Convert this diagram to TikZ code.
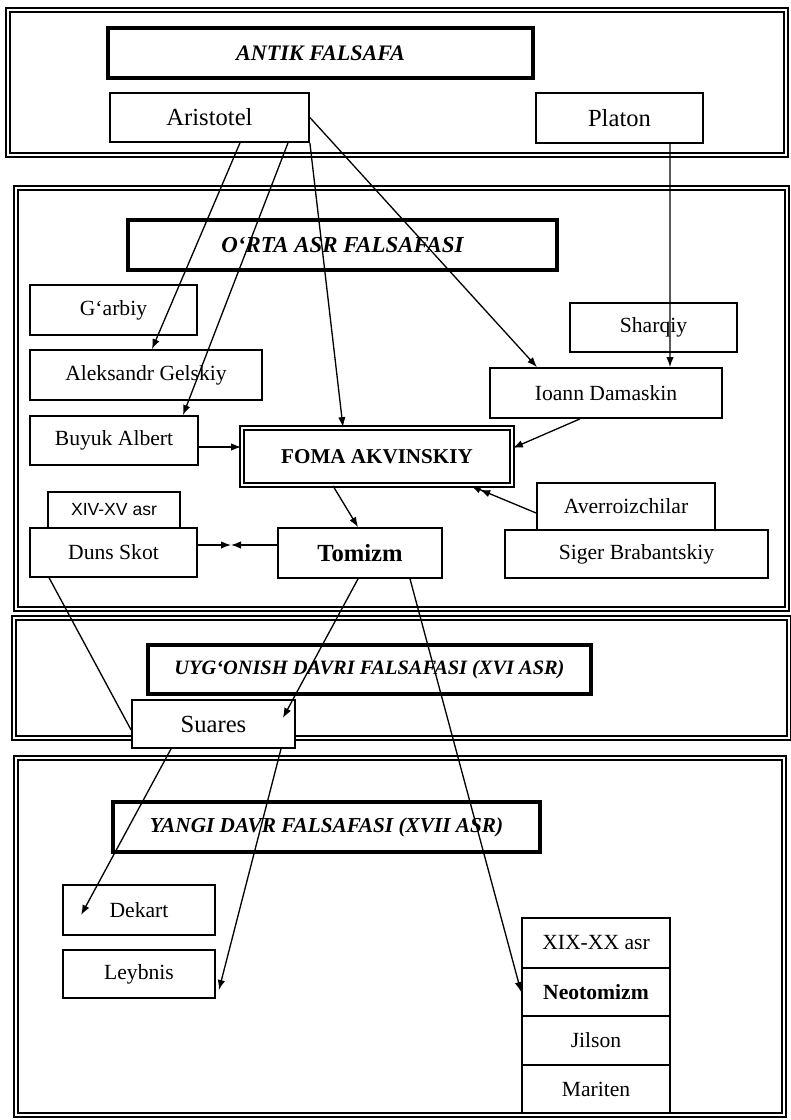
\documentclass[tikz,border=0pt]{standalone}
\usepackage{fontspec}
\setmainfont{Liberation Serif}
\newfontfamily\arialfont{Liberation Sans}
\usetikzlibrary{
	arrows.meta,
	calc
}

\tikzset{
	box/.style={draw, line width=1pt, fill=white, inner sep=1pt, font=\fontsize{12.3}{14}\selectfont},
	headbox/.style={draw, line width=1.9pt, fill=white, inner sep=1pt, font=\fontsize{12.6}{14}\selectfont\bfseries\itshape},
	panel/.style={draw, double, line width=1.3pt, double distance=0.8pt},
	arr/.style={-{Latex[length=2mm,width=1.5mm]}, line width=0.75pt},
	dblarr/.style={-{Latex[length=2mm,width=1.5mm]Latex[length=2mm,width=1.5mm]}, line width=0.75pt},
}

\begin{document}
\begin{tikzpicture}[x=0.2mm, y=-0.2mm]
	
	\useasboundingbox (0,0) rectangle (791,1120);
	
	% frames of the periods
	\draw[panel] (8,10) rectangle (786,155);
	\draw[panel] (16,188) rectangle (787,609);
	\draw[panel] (14,618) rectangle (789,738);
	\draw[panel] (16,758) rectangle (784,1115);
	
	% antik falsafa
	\node[headbox, minimum width=85mm, minimum height=10mm] (antik) at (320.5,53) {ANTIK FALSAFA};
	\node[box, minimum width=39.8mm, minimum height=9.8mm, font=\fontsize{14}{16}\selectfont] (aristotel) at (209.5,117.5) {Aristotel};
	\node[box, minimum width=33.4mm, minimum height=10mm, font=\fontsize{14}{16}\selectfont] (platon) at (619.5,118) {Platon};
	
	% o'rta asr
	\node[headbox, minimum width=85.8mm, minimum height=10mm, font=\fontsize{13}{15}\selectfont\bfseries\itshape] (orta) at (342.5,245) {O‘RTA ASR FALSAFASI};
	\node[box, minimum width=33.4mm, minimum height=10mm] (garbiy) at (113.5,310) {G‘arbiy};
	\node[box, minimum width=46.4mm, minimum height=10mm] (gelskiy) at (146,375) {Aleksandr Gelskiy};
	\node[box, minimum width=33.6mm, minimum height=9.8mm] (albert) at (114,440.5) {Buyuk Albert};
	\node[box, minimum width=33.4mm, minimum height=9.8mm] (sharqiy) at (653.5,327.5) {Sharqiy};
	\node[box, minimum width=46.4mm, minimum height=10mm] (damaskin) at (606,393) {Ioann Damaskin};
	\node[box, double, double distance=1.2pt, minimum width=54mm, minimum height=11.4mm, font=\fontsize{12}{14}\selectfont\bfseries] (foma) at (377,456.5) {FOMA AKVINSKIY};
	
	\node[box, minimum width=26.4mm, minimum height=7.2mm, font=\arialfont\fontsize{10}{12}\selectfont] (xivxv) at (114,510) {XIV-XV asr};
	\node[box, minimum width=33.4mm, minimum height=9.8mm] (duns) at (113.5,552.5) {Duns Skot};
	\node[box, minimum width=32.8mm, minimum height=10mm, font=\fontsize{14}{16}\selectfont\bfseries] (tomizm) at (360,553) {Tomizm};
	\node[box, minimum width=35.6mm, minimum height=9.4mm] (averroiz) at (626,506.5) {Averroizchilar};
	\node[box, minimum width=52.6mm, minimum height=9.6mm] (siger) at (636.5,554) {Siger Brabantskiy};
	
	% uyg'onish davri
	\node[headbox, minimum width=88.6mm, minimum height=9.8mm, font=\fontsize{11.6}{13}\selectfont\bfseries\itshape] (uygonish) at (369.5,669.5) {UYG‘ONISH DAVRI FALSAFASI (XVI ASR)};
	\node[box, minimum width=32.6mm, minimum height=9.6mm, font=\fontsize{14}{16}\selectfont] (suares) at (213.5,724) {Suares};
	
	% yangi davr
	\node[headbox, minimum width=85.4mm, minimum height=10mm, font=\fontsize{12.1}{14}\selectfont\bfseries\itshape] (yangi) at (326.5,827) {YANGI DAVR FALSAFASI (XVII ASR)};
	\node[box, minimum width=30.4mm, minimum height=10mm] (dekart) at (139,910) {Dekart};
	\node[box, minimum width=30.4mm, minimum height=9.6mm] (leybnis) at (139,974) {Leybnis};
	
	\node[box, minimum width=29.6mm, minimum height=10mm] (xixxx) at (596,943) {XIX-XX asr};
	\node[box, minimum width=29.6mm, minimum height=9.6mm, font=\fontsize{12.3}{14}\selectfont\bfseries] (neotomizm) at (596,992) {Neotomizm};
	\node[box, minimum width=29.6mm, minimum height=9.8mm] (jilson) at (596,1040.5) {Jilson};
	\node[box, minimum width=29.6mm, minimum height=9.6mm] (mariten) at (596,1089) {Mariten};
	
	% from Aristotel and Platon
	\draw[arr] ([xshift=6.1mm]aristotel.south) -- ([xshift=1.2mm]gelskiy.north);
	\draw[arr] ([xshift=15.7mm]aristotel.south) -- ([xshift=13.8mm]albert.north);
	\draw[arr] (aristotel.south east) -- ([xshift=-6.8mm]foma.north);
	\draw[arr] (aristotel.east) -- ([xshift=-13.8mm]damaskin.north);
	\draw[arr] ([xshift=10.1mm]platon.south) -- ([xshift=12.8mm]damaskin.north);
	
	% into Foma Akvinskiy
	\draw[arr] ([xshift=-5.2mm]damaskin.south) -- ([yshift=1.7mm]foma.east);
	\draw[arr] ([yshift=-1.3mm]albert.east) -- ([yshift=-1.3mm]albert.east -| foma.west);
	\draw[dblarr] ([yshift=-1.3mm]averroiz.west) -- ([xshift=-8.4mm]foma.south east);
	\draw[arr] ([xshift=-8.8mm]foma.south) -- ([xshift=-0.4mm]tomizm.north);
	
	% Duns Skot and Tomizm
	\coordinate (meet) at (231,545);
	\draw[arr] (duns.east |- meet) -- (meet);
	\draw[arr] (tomizm.west |- meet) -- (meet);
	
	% later periods
	\draw[arr] ([xshift=-0.4mm]tomizm.south) -- ([xshift=-2.6mm,yshift=1.2mm]suares.east);
	\draw[line width=0.75pt] ([xshift=4mm]duns.south west) -- ([yshift=-1.2mm]suares.west);
	\draw[arr] ([xshift=10mm]tomizm.south) -- (neotomizm.west);
	\draw[arr] ([xshift=-8.5mm]suares.south) -- ([xshift=3.8mm,yshift=-1mm]dekart.west);
	\draw[arr] ([xshift=13.5mm]suares.south) -- ([xshift=0.6mm,yshift=-3.2mm]leybnis.east);
	
\end{tikzpicture}
\end{document}
